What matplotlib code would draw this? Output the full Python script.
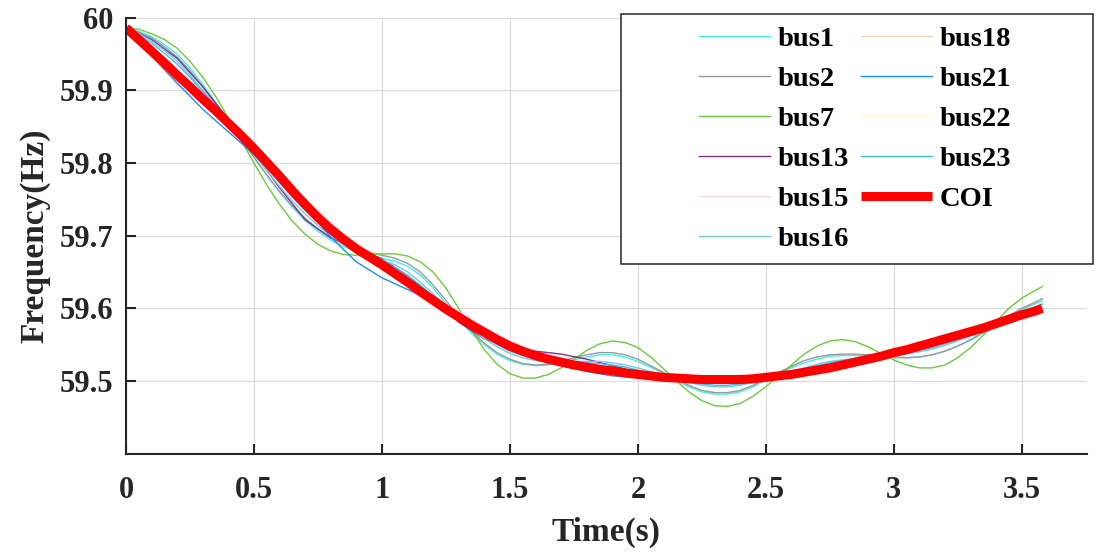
import matplotlib
matplotlib.use("Agg")
import matplotlib.pyplot as plt
from matplotlib.patches import Rectangle
from matplotlib.ticker import FuncFormatter

plt.rcParams['font.family'] = ['Liberation Serif', 'DejaVu Serif']
plt.rcParams['font.weight'] = 'bold'

# time axes (s): 0.05 s steps for the oscillating buses and COI, 0.1 s for the rest
t_fine = [round(0.05 * i, 2) for i in range(72)] + [3.58]
t = [round(0.1 * i, 1) for i in range(36)] + [3.58]

# bus frequencies (Hz), sampled on t_fine
bus1 = [59.986, 59.981, 59.974, 59.963, 59.950, 59.931, 59.908, 59.884, 59.858, 59.833,
        59.808, 59.783, 59.760, 59.739, 59.721, 59.706, 59.694, 59.685, 59.678, 59.673,
        59.669, 59.665, 59.658, 59.646, 59.628, 59.607, 59.585, 59.566, 59.550, 59.537,
        59.528, 59.523, 59.521, 59.522, 59.525, 59.529, 59.533, 59.536, 59.536, 59.533,
        59.527, 59.519, 59.510, 59.500, 59.492, 59.485, 59.482, 59.482, 59.485, 59.492,
        59.501, 59.510, 59.518, 59.525, 59.530, 59.534, 59.535, 59.535, 59.534, 59.533,
        59.532, 59.532, 59.533, 59.536, 59.541, 59.548, 59.556, 59.566, 59.577, 59.588,
        59.598, 59.606, 59.610]
bus2 = [59.986, 59.980, 59.972, 59.960, 59.946, 59.927, 59.905, 59.881, 59.857, 59.832,
        59.808, 59.784, 59.761, 59.741, 59.724, 59.709, 59.697, 59.688, 59.682, 59.677,
        59.673, 59.669, 59.662, 59.650, 59.632, 59.611, 59.589, 59.569, 59.552, 59.539,
        59.530, 59.524, 59.522, 59.523, 59.527, 59.532, 59.536, 59.539, 59.539, 59.536,
        59.530, 59.521, 59.512, 59.502, 59.494, 59.487, 59.484, 59.484, 59.487, 59.494,
        59.503, 59.512, 59.520, 59.528, 59.533, 59.536, 59.537, 59.537, 59.536, 59.534,
        59.533, 59.532, 59.533, 59.536, 59.541, 59.548, 59.557, 59.567, 59.578, 59.590,
        59.600, 59.608, 59.613]
bus7 = [59.986, 59.984, 59.978, 59.970, 59.958, 59.940, 59.918, 59.892, 59.862, 59.831,
        59.800, 59.770, 59.743, 59.720, 59.702, 59.688, 59.679, 59.674, 59.673, 59.674,
        59.675, 59.675, 59.672, 59.664, 59.650, 59.628, 59.600, 59.570, 59.543, 59.523,
        59.510, 59.504, 59.504, 59.509, 59.518, 59.530, 59.542, 59.551, 59.555, 59.553,
        59.546, 59.533, 59.517, 59.500, 59.485, 59.473, 59.466, 59.465, 59.469, 59.479,
        59.492, 59.507, 59.522, 59.537, 59.548, 59.555, 59.557, 59.554, 59.547, 59.538,
        59.529, 59.522, 59.518, 59.518, 59.522, 59.532, 59.546, 59.563, 59.582, 59.600,
        59.614, 59.624, 59.630]
bus16 = [59.986, 59.978, 59.968, 59.955, 59.940, 59.921, 59.900, 59.879, 59.857, 59.834,
         59.812, 59.790, 59.768, 59.748, 59.730, 59.714, 59.700, 59.689, 59.681, 59.674,
         59.667, 59.660, 59.650, 59.636, 59.620, 59.603, 59.587, 59.572, 59.558, 59.547,
         59.538, 59.532, 59.528, 59.526, 59.526, 59.527, 59.527, 59.527, 59.525, 59.522,
         59.518, 59.513, 59.508, 59.503, 59.498, 59.494, 59.492, 59.492, 59.494, 59.498,
         59.503, 59.508, 59.513, 59.518, 59.523, 59.527, 59.529, 59.531, 59.533, 59.534,
         59.536, 59.538, 59.540, 59.544, 59.549, 59.555, 59.562, 59.569, 59.577, 59.585,
         59.594, 59.601, 59.605]
bus23 = [59.986, 59.976, 59.965, 59.951, 59.936, 59.918, 59.898, 59.878, 59.858, 59.836,
         59.815, 59.794, 59.773, 59.753, 59.735, 59.719, 59.704, 59.692, 59.682, 59.673,
         59.665, 59.656, 59.645, 59.632, 59.617, 59.602, 59.588, 59.574, 59.561, 59.550,
         59.541, 59.535, 59.530, 59.527, 59.526, 59.525, 59.525, 59.524, 59.522, 59.519,
         59.515, 59.511, 59.507, 59.503, 59.499, 59.496, 59.494, 59.494, 59.496, 59.499,
         59.503, 59.507, 59.512, 59.517, 59.521, 59.525, 59.528, 59.531, 59.533, 59.535,
         59.537, 59.539, 59.542, 59.546, 59.551, 59.557, 59.563, 59.570, 59.578, 59.586,
         59.594, 59.601, 59.606]
coi = [59.986, 59.970, 59.954, 59.938, 59.921, 59.905, 59.888, 59.872, 59.855, 59.838,
       59.820, 59.801, 59.782, 59.762, 59.743, 59.725, 59.709, 59.695, 59.682, 59.671,
       59.660, 59.648, 59.636, 59.623, 59.611, 59.599, 59.588, 59.577, 59.567, 59.557,
       59.548, 59.541, 59.535, 59.530, 59.526, 59.522, 59.519, 59.516, 59.514, 59.511,
       59.509, 59.507, 59.505, 59.504, 59.503, 59.502, 59.502, 59.502, 59.502, 59.503,
       59.505, 59.507, 59.509, 59.512, 59.515, 59.518, 59.522, 59.526, 59.530, 59.534,
       59.539, 59.543, 59.548, 59.553, 59.558, 59.563, 59.568, 59.573, 59.579, 59.585,
       59.591, 59.596, 59.600]

# bus frequencies (Hz), sampled on t
bus13 = [59.986, 59.970, 59.944, 59.905, 59.860, 59.814, 59.766, 59.722, 59.697, 59.684,
         59.668, 59.645, 59.616, 59.581, 59.558, 59.546, 59.541, 59.537, 59.530, 59.521,
         59.512, 59.506, 59.503, 59.502, 59.503, 59.506, 59.510, 59.516, 59.523, 59.531,
         59.540, 59.549, 59.559, 59.569, 59.580, 59.592, 59.601]
bus15 = [59.986, 59.958, 59.925, 59.888, 59.850, 59.813, 59.780, 59.750, 59.718, 59.684,
         59.654, 59.633, 59.615, 59.595, 59.574, 59.555, 59.539, 59.528, 59.521, 59.516,
         59.511, 59.507, 59.504, 59.503, 59.503, 59.506, 59.510, 59.516, 59.523, 59.531,
         59.540, 59.549, 59.559, 59.569, 59.580, 59.592, 59.601]
bus18 = [59.986, 59.946, 59.908, 59.882, 59.852, 59.820, 59.785, 59.747, 59.710, 59.682,
         59.661, 59.637, 59.612, 59.589, 59.568, 59.551, 59.537, 59.527, 59.520, 59.515,
         59.510, 59.506, 59.503, 59.502, 59.502, 59.505, 59.509, 59.515, 59.522, 59.530,
         59.539, 59.548, 59.558, 59.568, 59.579, 59.591, 59.600]
bus21 = [59.986, 59.948, 59.910, 59.874, 59.843, 59.812, 59.778, 59.740, 59.698, 59.664,
         59.642, 59.626, 59.609, 59.589, 59.569, 59.550, 59.535, 59.522, 59.513, 59.507,
         59.505, 59.504, 59.503, 59.502, 59.503, 59.505, 59.509, 59.515, 59.522, 59.530,
         59.539, 59.548, 59.558, 59.568, 59.579, 59.591, 59.600]
bus22 = [59.986, 59.955, 59.922, 59.889, 59.855, 59.822, 59.784, 59.745, 59.710, 59.684,
         59.661, 59.637, 59.612, 59.589, 59.568, 59.551, 59.538, 59.528, 59.521, 59.516,
         59.511, 59.507, 59.504, 59.503, 59.503, 59.506, 59.510, 59.516, 59.523, 59.531,
         59.540, 59.549, 59.559, 59.569, 59.580, 59.592, 59.601]

names = ['bus1', 'bus2', 'bus7', 'bus13', 'bus15', 'bus16',
         'bus18', 'bus21', 'bus22', 'bus23']
series = [(t_fine, bus1), (t_fine, bus2), (t_fine, bus7), (t, bus13), (t, bus15),
          (t_fine, bus16), (t, bus18), (t, bus21), (t, bus22), (t_fine, bus23)]
colors = ['#3CF0F0', '#9A9A9A', '#6CCB3A', '#7E2F8E', '#EED8F6', '#74C6F0',
          '#F8D3C2', '#1E8CF5', '#FFFAD2', '#3EBDE6']

fig = plt.figure(figsize=(11.04, 5.53), dpi=100)
ax = fig.add_axes([0.1141, 0.1797, 0.8705, 0.7883])

for (x, y), name, c in zip(series, names, colors):
    ax.plot(x, y, color=c, lw=1.0, label=name)
ax.plot(t_fine, coi, color='#FF0000', lw=6.5, label='COI', solid_capstyle='butt')

ax.set_xlim(0, 3.755)
ax.set_ylim(59.4, 60.0)
ax.set_xticks([0, 0.5, 1, 1.5, 2, 2.5, 3, 3.5])
ax.set_yticks([59.5, 59.6, 59.7, 59.8, 59.9, 60.0])
ax.xaxis.set_major_formatter(FuncFormatter(lambda v, p: '%g' % v))
ax.yaxis.set_major_formatter(FuncFormatter(lambda v, p: '%g' % round(v, 1)))

ax.grid(True, color='#dcdcdc', lw=0.9)
ax.set_axisbelow(True)
for s in ['top', 'right']:
    ax.spines[s].set_visible(False)
for s in ['left', 'bottom']:
    ax.spines[s].set_color('#262626')
    ax.spines[s].set_linewidth(1.5)

ax.tick_params(axis='both', direction='in', length=7.5, width=1.5,
               colors='#262626', labelsize=22)
ax.tick_params(axis='x', pad=16)
ax.tick_params(axis='y', pad=9)

ax.set_xlabel('Time(s)', fontsize=24, fontweight='bold', color='#262626')
ax.set_ylabel('Frequency(Hz)', fontsize=24, fontweight='bold', color='#262626')
ax.xaxis.set_label_coords(0.5, -0.145)
ax.yaxis.set_label_coords(-0.079, 0.5)

# legend box
box = Rectangle((621 / 1104, 1 - 264 / 553), 472 / 1104, 250 / 553,
                transform=fig.transFigure, facecolor='white',
                edgecolor='#262626', lw=1.1, zorder=5, clip_on=False)
ax.add_patch(box)
leg = ax.legend(ncol=2, loc='center', bbox_to_anchor=(855 / 1104, 1 - 139 / 553),
                bbox_transform=fig.transFigure, frameon=False,
                prop={'family': 'Liberation Serif', 'weight': 'bold', 'size': 20.5},
                handlelength=2.5, handletextpad=0.25, columnspacing=0.42,
                labelspacing=0.5, borderpad=0)
leg.set_zorder(6)

fig.savefig('out.png', dpi=100)
